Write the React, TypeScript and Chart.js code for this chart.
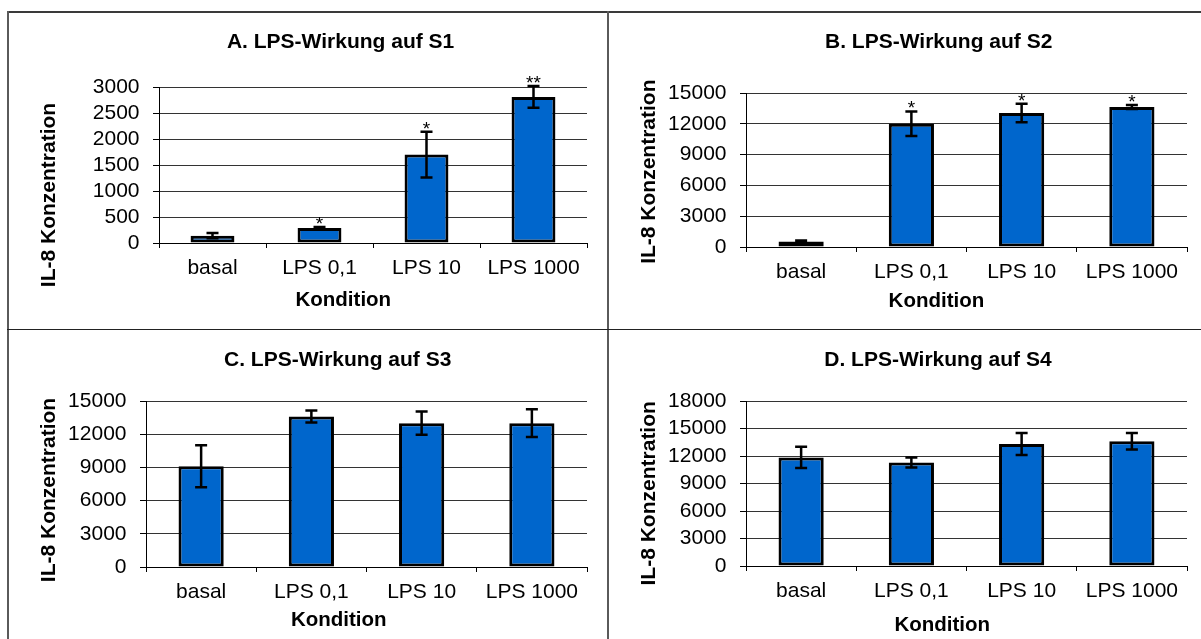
import React, { useEffect, useRef } from "react";
import { Chart, registerables } from "chart.js";

Chart.register(...registerables);

// Shared categories
const categories = ["basal", "LPS 0,1", "LPS 10", "LPS 1000"];

// S1
const s1Means = [140, 290, 1700, 2810];
const s1Errors = [50, 20, 440, 210];
const s1Marks = ["", "*", "*", "**"];
const s1AxisMax = 3000;
const s1AxisStep = 500;

// S2
const s2Means = [540, 12000, 13050, 13640];
const s2Errors = [100, 1200, 900, 200];
const s2Marks = ["", "*", "*", "*"];
const s2AxisMax = 15000;
const s2AxisStep = 3000;

// S3
const s3Means = [9100, 13600, 13000, 13000];
const s3Errors = [1900, 550, 1050, 1250];
const s3Marks = ["", "", "", ""];
const s3AxisMax = 15000;
const s3AxisStep = 3000;

// S4
const s4Means = [11850, 11300, 13300, 13600];
const s4Errors = [1150, 550, 1200, 900];
const s4Marks = ["", "", "", ""];
const s4AxisMax = 18000;
const s4AxisStep = 3000;

const panelTitles = [
  "A. LPS-Wirkung auf S1",
  "B. LPS-Wirkung auf S2",
  "C. LPS-Wirkung auf S3",
  "D. LPS-Wirkung auf S4",
];
const yAxisTitle = "IL-8 Konzentration";
const xAxisTitle = "Kondition";

const FONT = "'Liberation Sans', Arial, Helvetica, sans-serif";
const BAR_BLUE = "#0066CC";

type Panel = {
  title: string;
  means: number[];
  errors: number[];
  marks: string[];
  max: number;
  step: number;
  // canvas placement on the page
  left: number;
  top: number;
  width: number;
  height: number;
  // plot box inside the canvas
  yAxisWidth: number;
  padRight: number;
  padTop: number;
  padBottom: number;
  // text anchors inside the canvas
  titlePos: [number, number];
  xTitlePos: [number, number];
  yTitlePos: [number, number];
};

const panels: Panel[] = [
  {
    title: panelTitles[0], means: s1Means, errors: s1Errors, marks: s1Marks,
    max: s1AxisMax, step: s1AxisStep,
    left: 9, top: 12, width: 598, height: 317,
    yAxisWidth: 150, padRight: 20, padTop: 75, padBottom: 46,
    titlePos: [331.6, 30], xTitlePos: [334.3, 288], yTitlePos: [40, 183],
  },
  {
    title: panelTitles[1], means: s2Means, errors: s2Errors, marks: s2Marks,
    max: s2AxisMax, step: s2AxisStep,
    left: 609, top: 12, width: 592, height: 317,
    yAxisWidth: 137, padRight: 14, padTop: 81, padBottom: 42,
    titlePos: [329.7, 30.3], xTitlePos: [327.4, 289.7], yTitlePos: [40, 159.7],
  },
  {
    title: panelTitles[2], means: s3Means, errors: s3Errors, marks: s3Marks,
    max: s3AxisMax, step: s3AxisStep,
    left: 9, top: 330, width: 598, height: 309,
    yAxisWidth: 137, padRight: 20, padTop: 71, padBottom: 32,
    titlePos: [328.7, 30.5], xTitlePos: [329.7, 290.8], yTitlePos: [40, 160],
  },
  {
    title: panelTitles[3], means: s4Means, errors: s4Errors, marks: s4Marks,
    max: s4AxisMax, step: s4AxisStep,
    left: 609, top: 330, width: 592, height: 309,
    yAxisWidth: 137, padRight: 14, padTop: 71, padBottom: 33,
    titlePos: [328.9, 30.5], xTitlePos: [333.2, 295.8], yTitlePos: [40, 163.3],
  },
];

// Error bars, significance stars and the chart/axis titles
function makeExtras(p: Panel) {
  return {
    id: "panelExtras",
    afterDatasetsDraw(chart: any) {
      const ctx: CanvasRenderingContext2D = chart.ctx;
      const yScale = chart.scales.y;
      const meta = chart.getDatasetMeta(0);
      ctx.save();
      ctx.strokeStyle = "#000";
      ctx.lineWidth = 2.5;
      ctx.lineCap = "butt";
      meta.data.forEach((bar: any, i: number) => {
        const v = p.means[i];
        const e = p.errors[i];
        const x = bar.x;
        const yHi = yScale.getPixelForValue(v + e);
        const yLo = yScale.getPixelForValue(v - e);
        const cap = 6;
        ctx.beginPath();
        ctx.moveTo(x, yHi);
        ctx.lineTo(x, yLo);
        ctx.moveTo(x - cap, yHi);
        ctx.lineTo(x + cap, yHi);
        ctx.moveTo(x - cap, yLo);
        ctx.lineTo(x + cap, yLo);
        ctx.stroke();

        const mark = p.marks[i];
        if (mark) {
          const size = 19;
          ctx.fillStyle = "#000";
          ctx.font = `${size}px ${FONT}`;
          ctx.textAlign = "center";
          ctx.textBaseline = "alphabetic";
          ctx.fillText(mark, x, yHi - 8 + 0.57 * size);
        }
      });
      ctx.restore();
    },
    afterDraw(chart: any) {
      const ctx: CanvasRenderingContext2D = chart.ctx;
      ctx.save();
      ctx.fillStyle = "#000";
      ctx.textAlign = "center";
      ctx.textBaseline = "middle";
      ctx.font = `bold 21px ${FONT}`;
      ctx.fillText(p.title, p.titlePos[0], p.titlePos[1]);
      ctx.font = `bold 20.5px ${FONT}`;
      ctx.fillText(xAxisTitle, p.xTitlePos[0], p.xTitlePos[1]);
      ctx.translate(p.yTitlePos[0], p.yTitlePos[1]);
      ctx.rotate(-Math.PI / 2);
      ctx.font = `bold 21px ${FONT}`;
      ctx.fillText(yAxisTitle, 0, 0);
      ctx.restore();
    },
  };
}

function BarPanel({ p }: { p: Panel }) {
  const ref = useRef<HTMLCanvasElement | null>(null);

  useEffect(() => {
    if (!ref.current) return;
    const chart = new Chart(ref.current, {
      type: "bar",
      data: {
        labels: categories,
        datasets: [
          {
            data: p.means,
            backgroundColor: BAR_BLUE,
            borderColor: "#000",
            borderWidth: 3,
            borderSkipped: false,
            barPercentage: 0.41,
            categoryPercentage: 1.0,
          },
        ],
      },
      options: {
        animation: false,
        responsive: false,
        events: [],
        layout: {
          padding: { left: 0, right: p.padRight, top: p.padTop, bottom: p.padBottom },
        },
        plugins: {
          legend: { display: false },
          title: { display: false },
          tooltip: { enabled: false },
        },
        scales: {
          x: {
            type: "category",
            ticks: {
              color: "#000",
              font: { size: 21, family: FONT },
              padding: 7.5,
              maxRotation: 0,
              minRotation: 0,
              autoSkip: false,
            },
            grid: {
              display: true,
              drawOnChartArea: false,
              drawTicks: true,
              tickLength: 5,
              tickColor: "#000",
              tickWidth: 1,
              offset: true,
            },
            border: { display: true, color: "#000", width: 1 },
            afterFit: (s: any) => {
              s.height = 40;
            },
          },
          y: {
            min: 0,
            max: p.max,
            ticks: {
              stepSize: p.step,
              autoSkip: false,
              color: "#000",
              font: { size: 21, family: FONT },
              padding: 13.5,
              callback: (v: any) => String(v),
            },
            grid: {
              color: "#333",
              lineWidth: 1,
              drawTicks: true,
              tickLength: 6,
              tickColor: "#000",
              tickWidth: 1,
            },
            border: { display: true, color: "#000", width: 1 },
            afterFit: (s: any) => {
              s.width = p.yAxisWidth;
            },
          },
        },
      },
      plugins: [makeExtras(p)],
    } as any);
    return () => chart.destroy();
  }, [p]);

  return (
    <canvas
      ref={ref}
      width={p.width}
      height={p.height}
      style={{ position: "absolute", left: p.left, top: p.top, width: p.width, height: p.height }}
    />
  );
}

export default function App() {
  return (
    <div
      style={{
        position: "absolute",
        left: 0,
        top: 0,
        width: 1201,
        height: 639,
        background: "#fff",
        overflow: "hidden",
      }}
    >
      {/* frame and dividers */}
      <div style={{ position: "absolute", left: 7, top: 11, width: 1194, height: 2, background: "#3a3a3a" }} />
      <div style={{ position: "absolute", left: 7, top: 11, width: 2, height: 628, background: "#5a5a5a" }} />
      <div style={{ position: "absolute", left: 607, top: 11, width: 2, height: 628, background: "#5a5a5a" }} />
      <div style={{ position: "absolute", left: 7, top: 329, width: 1194, height: 1, background: "#222" }} />
      {panels.map((p, i) => (
        <BarPanel key={i} p={p} />
      ))}
    </div>
  );
}
